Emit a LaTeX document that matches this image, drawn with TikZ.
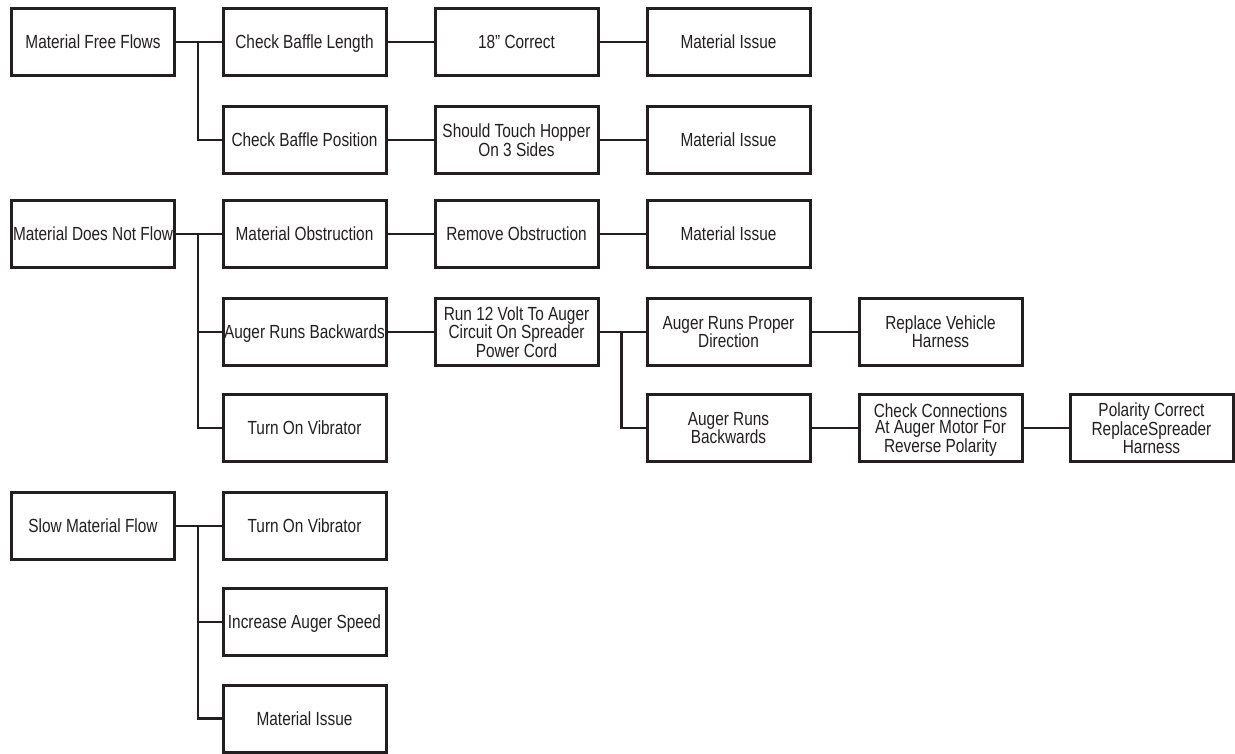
\documentclass[tikz,border=0pt]{standalone}
\usepackage{fontspec}
\setmainfont{Liberation Sans}[FakeStretch=0.81]
\definecolor{ink}{HTML}{231F20}
\begin{document}
\begin{tikzpicture}[x=1pt,y=-1pt,
  box/.style={draw=ink, line width=3pt, minimum width=163pt, minimum height=67pt,
    inner sep=0pt, align=center, text=ink, text depth=0pt,
    font=\fontsize{19}{16.8}\selectfont},
  link/.style={draw=ink, line width=2.4pt}]
\useasboundingbox (0,0) rectangle (1235,754);
% column 1
\node[box] (mff) at (93,42) {Material Free Flows};
\node[box] (mdnf) at (93,234) {Material Does Not Flow};
\node[box] (smf) at (93,526) {Slow Material Flow};
% column 2
\node[box] (cbl) at (304.5,42) {Check Baffle Length};
\node[box] (cbp) at (304.5,140) {Check Baffle Position};
\node[box] (mo) at (304.5,234) {Material Obstruction};
\node[box] (arb) at (304.5,332) {Auger Runs Backwards};
\node[box] (tov1) at (304.5,428) {Turn On Vibrator};
\node[box] (tov2) at (304.5,526) {Turn On Vibrator};
\node[box] (ias) at (304.5,622) {Increase Auger Speed};
\node[box] (mi4) at (304.5,718.5) {Material Issue};
% column 3
\node[box] (c18) at (516.5,42) {18” Correct};
\node[box] (sth) at (516.5,140) {Should Touch Hopper\\On 3 Sides};
\node[box] (ro) at (516.5,234) {Remove Obstruction};
\node[box] (r12) at (516.5,332) {Run 12 Volt To Auger\\Circuit On Spreader\\Power Cord};
% column 4
\node[box] (mi1) at (728.5,42) {Material Issue};
\node[box] (mi2) at (728.5,140) {Material Issue};
\node[box] (mi3) at (728.5,234) {Material Issue};
\node[box] (arpd) at (728.5,332) {Auger Runs Proper\\Direction};
\node[box] (arb2) at (728.5,428) {Auger Runs\\Backwards};
% column 5
\node[box] (rvh) at (940.5,332) {Replace Vehicle\\Harness};
\node[box] (cc) at (940.5,428) {Check Connections\\At Auger Motor For\\Reverse Polarity};
% column 6
\node[box] (pc) at (1151.5,428) {Polarity Correct\\ReplaceSpreader\\Harness};
% connectors
\draw[link] (mff.east) -- (cbl.west);
\draw[link] (mff.east) -- ++(22,0) |- (cbp.west);
\draw[link] (cbl.east) -- (c18.west);
\draw[link] (c18.east) -- (mi1.west);
\draw[link] (cbp.east) -- (sth.west);
\draw[link] (sth.east) -- (mi2.west);
\draw[link] (mdnf.east) -- (mo.west);
\draw[link] (mdnf.east) -- ++(22,0) |- (arb.west);
\draw[link] (mdnf.east) -- ++(22,0) |- (tov1.west);
\draw[link] (mo.east) -- (ro.west);
\draw[link] (ro.east) -- (mi3.west);
\draw[link] (arb.east) -- (r12.west);
\draw[link] (r12.east) -- (arpd.west);
\draw[link] (r12.east) -- ++(22,0) |- (arb2.west);
\draw[link] (arpd.east) -- (rvh.west);
\draw[link] (arb2.east) -- (cc.west);
\draw[link] (cc.east) -- (pc.west);
\draw[link] (smf.east) -- (tov2.west);
\draw[link] (smf.east) -- ++(22,0) |- (ias.west);
\draw[link] (smf.east) -- ++(22,0) |- (mi4.west);
\end{tikzpicture}
\end{document}
